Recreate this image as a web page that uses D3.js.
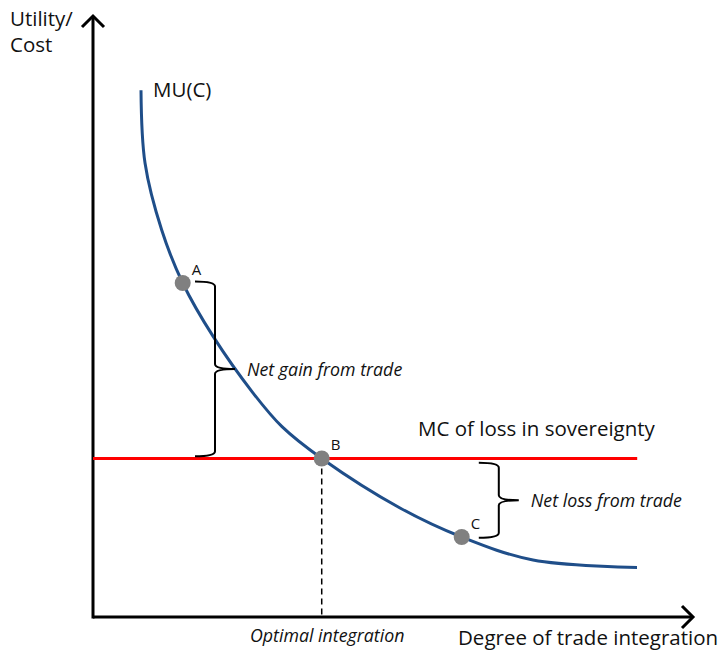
<!DOCTYPE html>
<html>
<head>
<meta charset="utf-8">
<script src="https://cdn.jsdelivr.net/npm/d3@7"></script>
<style>
  body { margin: 0; background: #fff; }
  text { font-family: "Open Sans", Lato, sans-serif; fill: #111; }
</style>
</head>
<body>
<svg id="chart" width="719" height="653"></svg>
<script>
// curve MU(C) (x: degree of integration, y: utility/cost)
const muX = [8.0, 8.67, 11.45, 14.95, 20.05, 26.72, 31.5, 38.12, 51.17, 61.45, 73.33, 90.67];
const muY = [87.8, 75.67, 64.5, 55.67, 46.72, 37.28, 31.72, 26.42, 18.17, 13.33, 9.5, 8.25];

// marginal cost line
const mcLevel = 26.4;
const mcEnd = 90.7;

// labelled points
const pointNames = ["A", "B", "C"];
const pointX = [14.95, 38.12, 61.45];
const pointY = [55.67, 26.42, 13.33];

// braces: x, top, bottom
const braceNames = ["Net gain from trade", "Net loss from trade"];
const braceX = [17.0, 64.3];
const braceTop = [55.9, 25.7];
const braceBottom = [26.8, 13.2];

const svg = d3.select("svg#chart");

//scale functions
const xScale = d3.scaleLinear().domain([0, 100]).range([93, 693]);
const yScale = d3.scaleLinear().domain([0, 100]).range([617, 17]);

//axes
svg.append("line")
  .attr("x1", xScale(0)).attr("y1", yScale(0))
  .attr("x2", xScale(100)).attr("y2", yScale(0))
  .attr("stroke", "#000").attr("stroke-width", 3);
svg.append("line")
  .attr("x1", xScale(0)).attr("y1", yScale(0) + 1.5)
  .attr("x2", xScale(0)).attr("y2", yScale(100) - 1)
  .attr("stroke", "#000").attr("stroke-width", 3);

//arrow heads
svg.append("path")
  .attr("d", `M${xScale(100) - 11},${yScale(0) - 11}L${xScale(100)},${yScale(0)}L${xScale(100) - 11},${yScale(0) + 11}`)
  .attr("fill", "none").attr("stroke", "#000").attr("stroke-width", 3);
svg.append("path")
  .attr("d", `M${xScale(0) - 11},${yScale(100) + 10}L${xScale(0)},${yScale(100) - 1}L${xScale(0) + 11},${yScale(100) + 10}`)
  .attr("fill", "none").attr("stroke", "#000").attr("stroke-width", 3);

//dashed drop line at B
svg.append("line")
  .attr("x1", xScale(pointX[1])).attr("y1", yScale(pointY[1]))
  .attr("x2", xScale(pointX[1])).attr("y2", yScale(0))
  .attr("stroke", "#000").attr("stroke-width", 1.5)
  .attr("stroke-dasharray", "6,4");

//MC line
svg.append("line")
  .attr("x1", xScale(0)).attr("y1", yScale(mcLevel))
  .attr("x2", xScale(mcEnd)).attr("y2", yScale(mcLevel))
  .attr("stroke", "#ff0000").attr("stroke-width", 3);

//MU curve
const lineGenerator = d3.line()
  .x((d, i) => xScale(muX[i]))
  .y(d => yScale(d))
  .curve(d3.curveCatmullRom.alpha(0.5));
svg.append("path")
  .attr("d", lineGenerator(muY))
  .attr("fill", "none")
  .attr("stroke", "#1f4e89")
  .attr("stroke-width", 3);

//braces
const brace = (x, y1, y2) => {
  const px = xScale(x), t = yScale(y1), b = yScale(y2), m = (t + b) / 2;
  const w = 20, r = 5;
  return `M${px},${t}Q${px + w},${t} ${px + w},${t + r}` +
    `L${px + w},${m - r}Q${px + w},${m} ${px + w + 20},${m}` +
    `Q${px + w},${m} ${px + w},${m + r}` +
    `L${px + w},${b - r}Q${px + w},${b} ${px},${b}`;
};
braceNames.forEach((name, i) => {
  svg.append("path")
    .attr("d", brace(braceX[i], braceTop[i], braceBottom[i]))
    .attr("fill", "none").attr("stroke", "#000").attr("stroke-width", 2);
  svg.append("text")
    .attr("x", xScale(braceX[i]) + 52)
    .attr("y", (yScale(braceTop[i]) + yScale(braceBottom[i])) / 2 + 7)
    .attr("font-size", 17.8).attr("font-style", "italic")
    .text(name);
});

//points
pointNames.forEach((name, i) => {
  svg.append("circle")
    .attr("cx", xScale(pointX[i])).attr("cy", yScale(pointY[i]))
    .attr("r", 8).attr("fill", "#808080");
  svg.append("text")
    .attr("x", xScale(pointX[i]) + 9).attr("y", yScale(pointY[i]) - 8)
    .attr("font-size", 15)
    .text(name);
});

//labels
svg.append("text").attr("x", 10).attr("y", 26).attr("font-size", 20.5).text("Utility/");
svg.append("text").attr("x", 10).attr("y", 52).attr("font-size", 20.5).text("Cost");
svg.append("text").attr("x", 153).attr("y", 97).attr("font-size", 20.5).text("MU(C)");
svg.append("text").attr("x", 418).attr("y", 436).attr("font-size", 20.5).text("MC of loss in sovereignty");
svg.append("text").attr("x", 458).attr("y", 645).attr("font-size", 20.5).text("Degree of trade integration");
svg.append("text").attr("x", 250).attr("y", 642).attr("font-size", 17.8).attr("font-style", "italic").text("Optimal integration");
</script>
</body>
</html>
